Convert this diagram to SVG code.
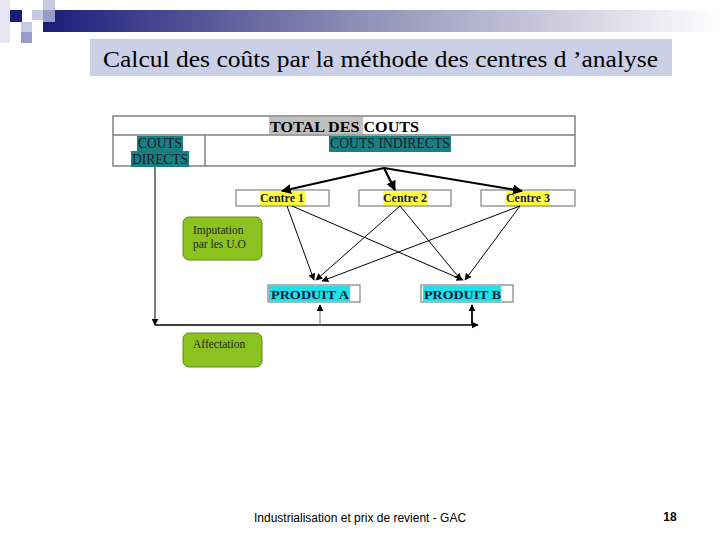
<svg xmlns="http://www.w3.org/2000/svg" width="720" height="540" viewBox="0 0 720 540">
<defs>
<linearGradient id="bar" x1="0" y1="0" x2="1" y2="0">
<stop offset="0" stop-color="#1c1c7a"/>
<stop offset="0.45" stop-color="#8a8cb4"/>
<stop offset="1" stop-color="#ffffff"/>
</linearGradient>
<marker id="ah" viewBox="0 0 10 10" refX="9" refY="5" markerWidth="7" markerHeight="7" orient="auto" markerUnits="userSpaceOnUse"><path d="M0,0 L10,5 L0,10 z" fill="#000"/></marker>
<marker id="ahb" viewBox="0 0 10 10" refX="9" refY="5" markerWidth="10" markerHeight="10" orient="auto" markerUnits="userSpaceOnUse"><path d="M0,0 L10,5 L0,10 z" fill="#000"/></marker>
</defs>
<style>
.serif{font-family:"Liberation Serif","Times New Roman",serif}
.cell{fill:#fff;stroke:#808080;stroke-width:1.5}
.ctr{fill:#fff;stroke:#808080;stroke-width:1.2}
.ctxt{font-family:"Liberation Serif",serif;font-weight:bold;font-size:12px;fill:#1a1a40;text-anchor:middle}
.green{fill:#8cc220;stroke:#5e8a10;stroke-width:1}
.gtxt{font-family:"Liberation Serif",serif;font-size:11.5px;fill:#1a2a10}
.thin{stroke:#000;stroke-width:1;fill:none}
.thick{stroke:#000;stroke-width:2.2;fill:none}
</style>
<rect width="720" height="540" fill="#fff"/>
<g id="header">
<rect x="43" y="10" width="677" height="22" fill="url(#bar)"/>
<rect x="0" y="0" width="10" height="43" fill="#e6e7f2"/>
<rect x="10" y="10" width="12" height="12" fill="#1c1c7a"/>
<rect x="32" y="10" width="11" height="10" fill="#c8cae2"/>
<rect x="43" y="0" width="12" height="10" fill="#c8cae2"/>
<rect x="43" y="10" width="12" height="12" fill="#9a9cc8"/>
<rect x="21" y="22" width="11" height="10" fill="#c8cae2"/>
<rect x="21" y="32" width="11" height="11" fill="#9a9cc8"/>
<rect x="90" y="39" width="582" height="37" fill="#ccd0e6"/>
<text x="103" y="67" class="serif" font-size="24" textLength="555" lengthAdjust="spacingAndGlyphs" fill="#000">Calcul des coûts par la méthode des centres d ’analyse</text>
</g>
<g id="table">
<rect x="113" y="116" width="462" height="50" class="cell"/>
<line x1="113" y1="135" x2="575" y2="135" stroke="#808080" stroke-width="1.5"/>
<line x1="205" y1="135" x2="205" y2="166" stroke="#808080" stroke-width="1.5"/>
<rect x="269" y="117" width="94" height="17" fill="#c0c0c0"/>
<text x="270" y="132" class="serif" font-size="15.5" font-weight="bold" textLength="149" lengthAdjust="spacingAndGlyphs" fill="#000">TOTAL DES COUTS</text>
<rect x="137" y="136" width="46" height="15" fill="#1a7f7f"/>
<rect x="131" y="151" width="58" height="16" fill="#1a7f7f"/>
<text x="138" y="148" class="serif" font-size="14" textLength="44" lengthAdjust="spacingAndGlyphs" fill="#1a1a30">COUTS</text>
<text x="132" y="164" class="serif" font-size="14" textLength="56" lengthAdjust="spacingAndGlyphs" fill="#1a1a30">DIRECTS</text>
<rect x="329" y="136" width="122" height="16" fill="#1a7f7f"/>
<text x="330" y="148" class="serif" font-size="14" textLength="120" lengthAdjust="spacingAndGlyphs" fill="#1a1a30">COUTS INDIRECTS</text>
</g>
<g id="centre1">
<rect x="236" y="190" width="93" height="16" class="ctr"/>
<rect x="260" y="191" width="45" height="14" fill="#ffff40"/>
<text x="282" y="202" class="ctxt">Centre 1</text>
</g>
<g id="centre2">
<rect x="359" y="190" width="92" height="16" class="ctr"/>
<rect x="383" y="191" width="45" height="14" fill="#ffff40"/>
<text x="405" y="202" class="ctxt">Centre 2</text>
</g>
<g id="centre3">
<rect x="481" y="190" width="94" height="16" class="ctr"/>
<rect x="506" y="191" width="44" height="14" fill="#ffff40"/>
<text x="528" y="202" class="ctxt">Centre 3</text>
</g>
<g id="imputation">
<rect x="183" y="217" width="79" height="43" rx="6" class="green"/>
<text x="193" y="234" class="gtxt">Imputation</text>
<text x="193" y="248" class="gtxt">par les U.O</text>
</g>
<g id="produitA">
<rect x="268" y="285" width="92" height="17" class="ctr"/>
<rect x="269" y="286" width="81" height="15" fill="#22e0e8"/>
<text x="271" y="299" class="serif" font-size="13.5" font-weight="bold" textLength="78" lengthAdjust="spacingAndGlyphs" fill="#102040">PRODUIT A</text>
</g>
<g id="produitB">
<rect x="421" y="285" width="92" height="17" class="ctr"/>
<rect x="423" y="286" width="78" height="15" fill="#22e0e8"/>
<text x="424" y="299" class="serif" font-size="13.5" font-weight="bold" textLength="77" lengthAdjust="spacingAndGlyphs" fill="#102040">PRODUIT B</text>
</g>
<g id="affectation">
<rect x="183" y="333" width="79" height="34" rx="6" class="green"/>
<text x="193" y="348" class="gtxt">Affectation</text>
</g>
<g id="connectors">
<line x1="384" y1="168" x2="282" y2="191" class="thick" marker-end="url(#ahb)"/>
<line x1="384" y1="168" x2="395" y2="190" class="thick" marker-end="url(#ahb)"/>
<line x1="384" y1="168" x2="522" y2="191" class="thick" marker-end="url(#ahb)"/>
<line x1="287" y1="206" x2="314" y2="280" class="thin" marker-end="url(#ah)"/>
<line x1="292" y1="206" x2="463" y2="280" class="thin" marker-end="url(#ah)"/>
<line x1="400" y1="206" x2="316" y2="280" class="thin" marker-end="url(#ah)"/>
<line x1="400" y1="206" x2="461" y2="280" class="thin" marker-end="url(#ah)"/>
<line x1="520" y1="206" x2="322" y2="281" class="thin" marker-end="url(#ah)"/>
<line x1="520" y1="206" x2="465" y2="280" class="thin" marker-end="url(#ah)"/>
<line x1="155" y1="167" x2="155" y2="325" class="thin" marker-end="url(#ah)"/>
<line x1="155" y1="325" x2="478" y2="325" stroke="#000" stroke-width="1.5" marker-end="url(#ah)"/>
<line x1="320" y1="325" x2="320" y2="305" stroke="#777" stroke-width="1" marker-end="url(#ah)"/>
<line x1="472" y1="325" x2="472" y2="305" stroke="#000" stroke-width="1.8" marker-end="url(#ah)"/>
</g>
<g id="footer">
<text x="254" y="522" font-family="Liberation Sans, Arial, sans-serif" font-size="12" fill="#000">Industrialisation et prix de revient - GAC</text>
<text x="670" y="521" font-family="Liberation Sans, Arial, sans-serif" font-size="12" font-weight="bold" text-anchor="middle" fill="#000">18</text>
</g>
</svg>
